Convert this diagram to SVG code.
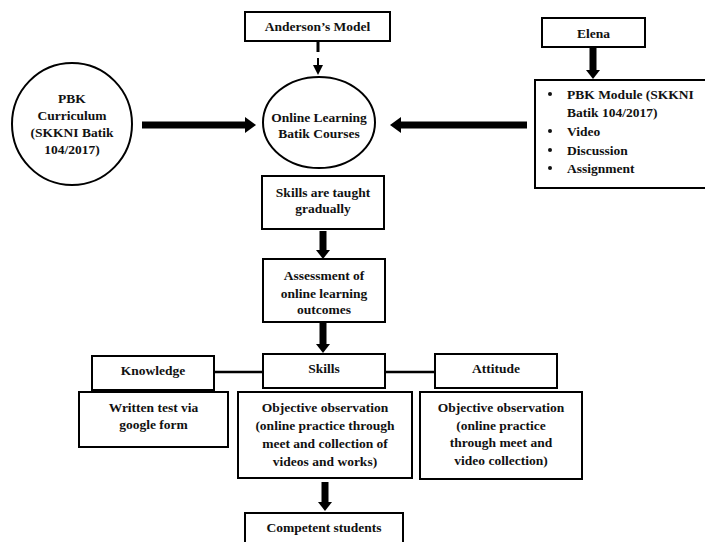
<svg xmlns="http://www.w3.org/2000/svg" width="705" height="542" viewBox="0 0 705 542">
<style>
.box{fill:#fff;stroke:#000;stroke-width:2}
.t{font-family:"Liberation Serif","Times New Roman",serif;font-weight:bold;font-size:13.5px;fill:#111;text-anchor:middle}
.tl{font-family:"Liberation Serif","Times New Roman",serif;font-weight:bold;font-size:13.5px;fill:#111}
.shaft{stroke:#000;fill:none}
.head{fill:#000}
</style>
<rect width="705" height="542" fill="#fff"/>
<g id="connectors">
  <line class="shaft" x1="318" y1="41" x2="318" y2="52" stroke-width="3"/>
  <line class="shaft" x1="318" y1="58" x2="318" y2="66" stroke-width="2"/>
  <polygon class="head" points="313,65 323,65 318,75"/>
  <line class="shaft" x1="142" y1="125" x2="246" y2="125" stroke-width="7"/>
  <polygon class="head" points="245,117 256,125 245,133"/>
  <line class="shaft" x1="527" y1="125" x2="400" y2="125" stroke-width="7"/>
  <polygon class="head" points="401,117 390,125 401,133"/>
  <line class="shaft" x1="593" y1="47" x2="593" y2="71" stroke-width="7"/>
  <polygon class="head" points="586,70 600,70 593,79"/>
  <line class="shaft" x1="323" y1="231" x2="323" y2="251" stroke-width="7"/>
  <polygon class="head" points="316,250 330,250 323,259"/>
  <line class="shaft" x1="323" y1="323" x2="323" y2="345" stroke-width="7"/>
  <polygon class="head" points="316,344 330,344 323,353"/>
  <line class="shaft" x1="325" y1="482" x2="325" y2="503" stroke-width="7"/>
  <polygon class="head" points="318,502 332,502 325,511"/>
  <line class="shaft" x1="214" y1="372" x2="263" y2="372" stroke-width="2.5"/>
  <line class="shaft" x1="385" y1="372" x2="435" y2="372" stroke-width="2.5"/>
</g>
<g id="anderson">
  <rect class="box" x="245" y="12" width="145" height="29"/>
  <text class="t" x="317.5" y="31">Anderson’s Model</text>
</g>
<g id="pbk-curriculum">
  <ellipse class="box" cx="72" cy="124" rx="60" ry="61"/>
  <text class="t" x="72" y="103">PBK</text>
  <text class="t" x="72" y="120">Curriculum</text>
  <text class="t" x="72" y="137">(SKKNI Batik</text>
  <text class="t" x="72" y="154">104/2017)</text>
</g>
<g id="online-learning">
  <ellipse class="box" cx="319" cy="122.5" rx="56" ry="45.5"/>
  <text class="t" x="319" y="122">Online Learning</text>
  <text class="t" x="319" y="138">Batik Courses</text>
</g>
<g id="elena">
  <rect class="box" x="542" y="18" width="103" height="29"/>
  <text class="t" x="593.5" y="38">Elena</text>
</g>
<g id="module">
  <rect class="box" x="535" y="80" width="175" height="108"/>
  <circle cx="550" cy="94" r="2" fill="#111"/>
  <circle cx="550" cy="131" r="2" fill="#111"/>
  <circle cx="550" cy="150" r="2" fill="#111"/>
  <circle cx="550" cy="168" r="2" fill="#111"/>
  <text class="tl" x="567" y="99">PBK Module (SKKNI</text>
  <text class="tl" x="567" y="117">Batik 104/2017)</text>
  <text class="tl" x="567" y="136">Video</text>
  <text class="tl" x="567" y="155">Discussion</text>
  <text class="tl" x="567" y="173">Assignment</text>
</g>
<g id="skills-taught">
  <rect class="box" x="262" y="176" width="122" height="53"/>
  <text class="t" x="323" y="197">Skills are taught</text>
  <text class="t" x="323" y="213">gradually</text>
</g>
<g id="assessment">
  <rect class="box" x="263" y="259" width="122" height="63"/>
  <text class="t" x="324" y="280">Assessment of</text>
  <text class="t" x="324" y="298">online learning</text>
  <text class="t" x="324" y="314">outcomes</text>
</g>
<g id="knowledge">
  <rect class="box" x="92" y="356" width="122" height="34"/>
  <text class="t" x="153" y="375">Knowledge</text>
</g>
<g id="skills">
  <rect class="box" x="263" y="354" width="122" height="34"/>
  <text class="t" x="324" y="373">Skills</text>
</g>
<g id="attitude">
  <rect class="box" x="435" y="354" width="122" height="34"/>
  <text class="t" x="496" y="373">Attitude</text>
</g>
<g id="written-test">
  <rect class="box" x="79" y="392" width="149" height="55"/>
  <text class="t" x="153.5" y="412">Written test via</text>
  <text class="t" x="153.5" y="429">google form</text>
</g>
<g id="skills-observation">
  <rect class="box" x="238" y="392" width="174" height="86"/>
  <text class="t" x="325" y="412">Objective observation</text>
  <text class="t" x="325" y="430">(online practice through</text>
  <text class="t" x="325" y="448">meet and collection of</text>
  <text class="t" x="325" y="466">videos and works)</text>
</g>
<g id="attitude-observation">
  <rect class="box" x="420" y="392" width="162" height="87"/>
  <text class="t" x="501" y="412">Objective observation</text>
  <text class="t" x="501" y="430">(online practice</text>
  <text class="t" x="501" y="447">through meet and</text>
  <text class="t" x="501" y="465">video collection)</text>
</g>
<g id="competent">
  <rect class="box" x="245" y="513" width="158" height="40"/>
  <text class="t" x="324" y="532">Competent students</text>
</g>
</svg>
